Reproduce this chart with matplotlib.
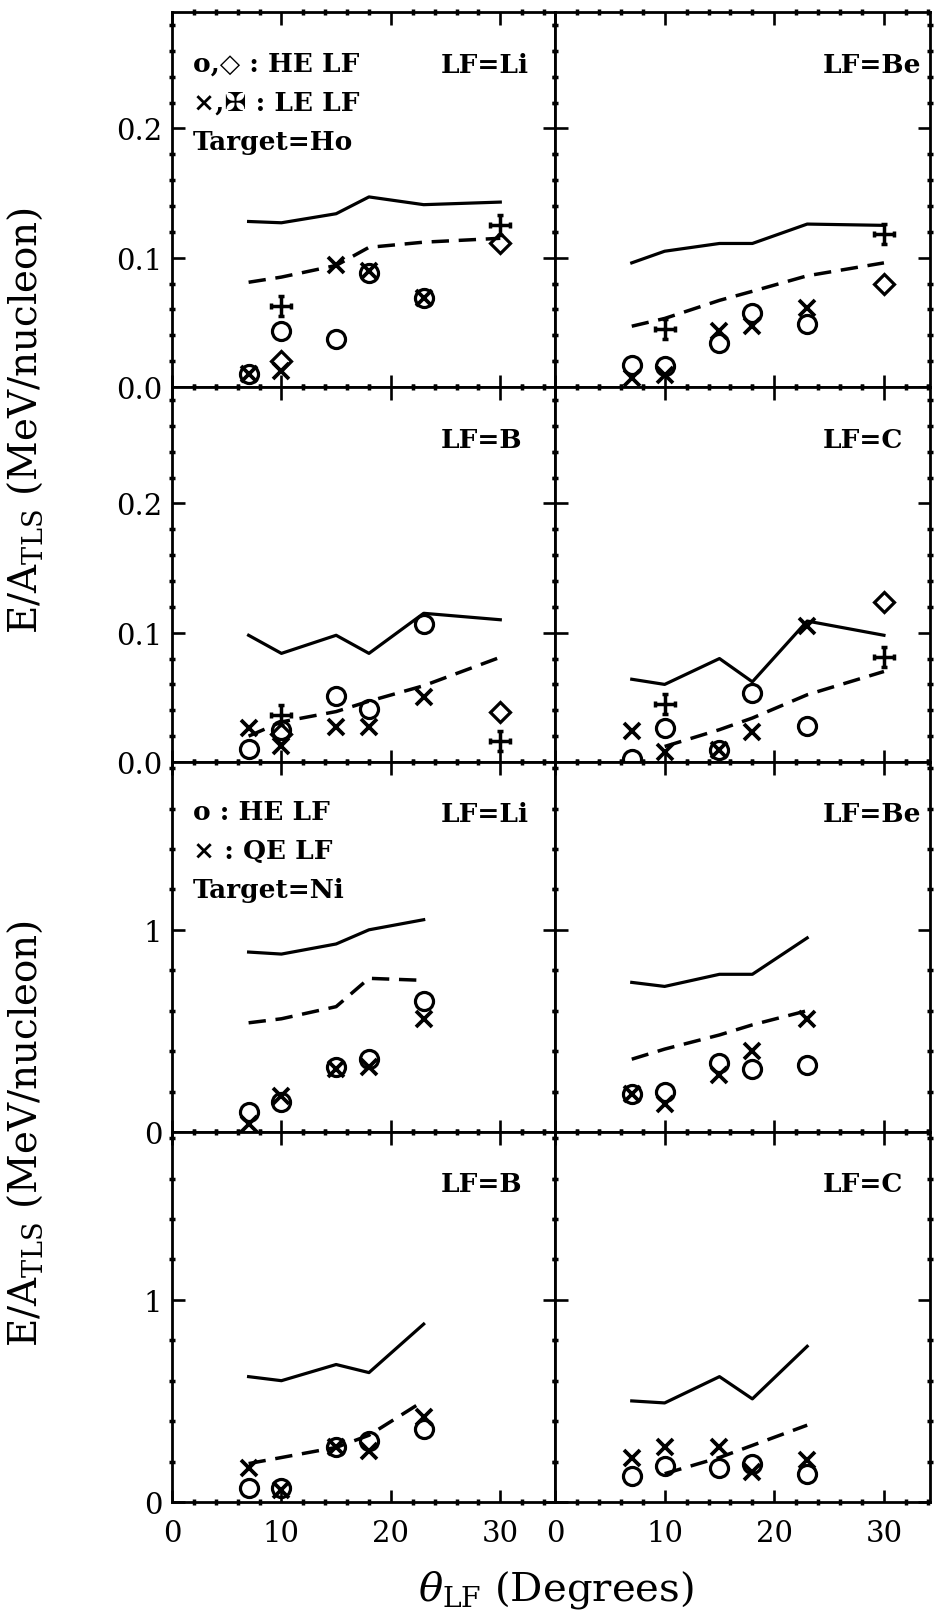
"""
E/A_TLS vs theta_LF, Ho and Ni targets, four light fragments each.
"""

import numpy as np
import matplotlib
matplotlib.use("Agg")
import matplotlib.pyplot as plt
from matplotlib.path import Path
from matplotlib.ticker import MultipleLocator

plt.rcParams['font.family'] = ['DejaVu Serif', 'DejaVu Sans']
plt.rcParams['mathtext.fontset'] = 'dejavuserif'

nan = np.nan

# angles (degrees)
ANG_HO = [7, 10, 15, 18, 23, 30]
ANG_NI = [7, 10, 15, 18, 23]
ANG_PTS = [7, 10, 15, 18, 23]
ANG_TEL = [10, 30]

# --- Target = Ho ---
HO_LI_SOLID = [0.128, 0.127, 0.134, 0.147, 0.141, 0.143]
HO_LI_DASH = [0.081, 0.085, 0.094, 0.108, 0.112, 0.115]
HO_LI_CIRC = [0.010, 0.043, 0.037, 0.088, 0.069]
HO_LI_CROSS = [0.010, 0.012, 0.094, 0.090, 0.069]
HO_LI_DIAM = [0.020, 0.111]
HO_LI_MALT = [0.063, 0.125]

HO_BE_SOLID = [0.096, 0.105, 0.111, 0.111, 0.126, 0.125]
HO_BE_DASH = [0.047, 0.053, 0.067, 0.074, 0.086, 0.096]
HO_BE_CIRC = [0.017, 0.016, 0.034, 0.057, 0.049]
HO_BE_CROSS = [0.007, 0.009, 0.043, 0.047, 0.061]
HO_BE_DIAM = [nan, 0.080]
HO_BE_MALT = [0.045, 0.118]

HO_B_SOLID = [0.098, 0.084, 0.098, 0.084, 0.115, 0.110]
HO_B_DASH = [0.020, 0.031, 0.039, 0.047, 0.059, 0.081]
HO_B_CIRC = [0.010, 0.025, 0.051, 0.041, 0.107]
HO_B_CROSS = [0.026, 0.012, 0.027, 0.027, 0.050]
HO_B_DIAM = [0.022, 0.039]
HO_B_MALT = [0.036, 0.016]

HO_C_SOLID = [0.064, 0.060, 0.080, 0.062, 0.109, 0.098]
HO_C_DASH = [nan, 0.012, 0.025, 0.034, 0.052, 0.070]
HO_C_CIRC = [0.002, 0.026, 0.009, 0.053, 0.028]
HO_C_CROSS = [0.024, 0.008, 0.009, 0.023, 0.105]
HO_C_DIAM = [nan, 0.124]
HO_C_MALT = [0.045, 0.081]

# --- Target = Ni ---
NI_LI_SOLID = [0.89, 0.88, 0.93, 1.00, 1.05]
NI_LI_DASH = [0.54, 0.56, 0.62, 0.76, 0.75]
NI_LI_CIRC = [0.10, 0.15, 0.32, 0.36, 0.65]
NI_LI_CROSS = [0.04, 0.18, 0.31, 0.32, 0.56]

NI_BE_SOLID = [0.74, 0.72, 0.78, 0.78, 0.96]
NI_BE_DASH = [0.36, 0.41, 0.48, 0.53, 0.60]
NI_BE_CIRC = [0.19, 0.20, 0.34, 0.31, 0.33]
NI_BE_CROSS = [0.19, 0.14, 0.28, 0.40, 0.56]

NI_B_SOLID = [0.62, 0.60, 0.68, 0.64, 0.88]
NI_B_DASH = [0.19, 0.22, 0.27, 0.33, 0.50]
NI_B_CIRC = [0.07, 0.07, 0.27, 0.30, 0.36]
NI_B_CROSS = [0.17, 0.06, 0.27, 0.25, 0.42]

NI_C_SOLID = [0.50, 0.49, 0.62, 0.51, 0.77]
NI_C_DASH = [nan, 0.14, 0.22, 0.28, 0.38]
NI_C_CIRC = [0.13, 0.18, 0.17, 0.19, 0.14]
NI_C_CROSS = [0.22, 0.27, 0.27, 0.15, 0.21]

LABELS = ['LF=Li', 'LF=Be', 'LF=B', 'LF=C']

# maltese-ish cross: plus with short end bars
s = 0.35
maltese = Path(
    [(-1, 0), (1, 0), (0, -1), (0, 1),
     (1, -s), (1, s), (-1, -s), (-1, s),
     (-s, 1), (s, 1), (-s, -1), (s, -1)],
    [Path.MOVETO, Path.LINETO] * 6)

W, H = 935, 1615
fig = plt.figure(figsize=(W / 100, H / 100), dpi=100)


def add_ax(x0, x1, y0, y1):
    return fig.add_axes([x0 / W, 1 - y1 / H, (x1 - x0) / W, (y1 - y0) / H])


col_px = [(172, 555, 35.0), (555, 930, 34.2)]
row_px = [(13, 388), (388, 763), (763, 1133), (1133, 1503)]

ho_panels = [
    (HO_LI_SOLID, HO_LI_DASH, HO_LI_CIRC, HO_LI_CROSS, HO_LI_DIAM, HO_LI_MALT),
    (HO_BE_SOLID, HO_BE_DASH, HO_BE_CIRC, HO_BE_CROSS, HO_BE_DIAM, HO_BE_MALT),
    (HO_B_SOLID, HO_B_DASH, HO_B_CIRC, HO_B_CROSS, HO_B_DIAM, HO_B_MALT),
    (HO_C_SOLID, HO_C_DASH, HO_C_CIRC, HO_C_CROSS, HO_C_DIAM, HO_C_MALT),
]
ni_panels = [
    (NI_LI_SOLID, NI_LI_DASH, NI_LI_CIRC, NI_LI_CROSS),
    (NI_BE_SOLID, NI_BE_DASH, NI_BE_CIRC, NI_BE_CROSS),
    (NI_B_SOLID, NI_B_DASH, NI_B_CIRC, NI_B_CROSS),
    (NI_C_SOLID, NI_C_DASH, NI_C_CIRC, NI_C_CROSS),
]

mk = dict(color='black', linestyle='none', mew=2.3, mfc='none')

for target in range(2):
    for k in range(4):
        r = target * 2 + k // 2
        c = k % 2
        x0, x1, xmax = col_px[c]
        y0, y1 = row_px[r]
        ax = add_ax(x0, x1, y0, y1)

        if target == 0:
            solid, dash, circ, cross, diam, malt = ho_panels[k]
            ang = ANG_HO
        else:
            solid, dash, circ, cross = ni_panels[k]
            ang = ANG_NI

        ax.plot(ang, solid, color='black', lw=2.3)
        ax.plot(ang, dash, color='black', lw=2.5, linestyle=(0, (5, 2.8)))
        ax.plot(ANG_PTS, circ, marker='o', ms=13, **mk)
        ax.plot(ANG_PTS, cross, marker='x', ms=11, **dict(mk, mew=2.7))
        if target == 0:
            ax.plot(ANG_TEL, diam, marker='D', ms=10, **mk)
            ax.plot(ANG_TEL, malt, marker=maltese, ms=14, **dict(mk, mew=2.5))

        ax.set_xlim(0, xmax)
        if target == 0:
            ax.set_ylim(0, 0.29)
            ax.yaxis.set_major_locator(MultipleLocator(0.1))
            ax.yaxis.set_minor_locator(MultipleLocator(0.02))
            ax.yaxis.set_major_formatter(plt.FuncFormatter(lambda v, p: f'{v:.1f}'))
        else:
            ax.set_ylim(0, 1.83)
            ax.yaxis.set_major_locator(MultipleLocator(1))
            ax.yaxis.set_minor_locator(MultipleLocator(0.2))
            ax.yaxis.set_major_formatter(plt.FuncFormatter(lambda v, p: f'{v:.0f}'))
        ax.xaxis.set_major_locator(MultipleLocator(10))
        ax.xaxis.set_minor_locator(MultipleLocator(2))

        ax.tick_params(which='major', direction='in', length=9, width=1.9,
                       top=True, right=True, labelsize=21)
        ax.tick_params(which='minor', direction='inout', length=5, width=2.5,
                       top=True, right=True)
        ax.tick_params(axis='y', pad=7)
        ax.tick_params(axis='x', pad=12)
        for sp in ax.spines.values():
            sp.set_linewidth(2.0)

        if c == 1:
            ax.tick_params(labelleft=False)
        if r != 3:
            ax.tick_params(labelbottom=False)
        else:
            ax.set_xticks([0, 10, 20, 30])

        tx = 0.703 if c == 0 else 0.713
        ax.text(tx, 0.86, LABELS[k], transform=ax.transAxes, ha='left',
                va='center', fontsize=19, fontweight='bold')

        if k == 0:
            if target == 0:
                lines = ['o,\u25c7 : HE LF', '\u00d7,\u2720 : LE LF', 'Target=Ho']
            else:
                lines = ['o : HE LF', '\u00d7 : QE LF', 'Target=Ni']
            for i, t in enumerate(lines):
                ax.text(0.055, 0.865 - 0.105 * i, t, transform=ax.transAxes,
                        ha='left', va='center', fontsize=19, fontweight='bold')

ylab = 'E/A$_{\\mathrm{TLS}}$ (MeV/nucleon)'
fig.text(25 / W, 1 - 420 / H, ylab, rotation=90, ha='center', va='center', fontsize=28)
fig.text(25 / W, 1 - 1133 / H, ylab, rotation=90, ha='center', va='center', fontsize=28)
fig.text(556 / W, 1 - 1590 / H, r'$\theta_{\mathrm{LF}}$ (Degrees)',
         ha='center', va='center', fontsize=29)

fig.savefig('out.png', dpi=100)
